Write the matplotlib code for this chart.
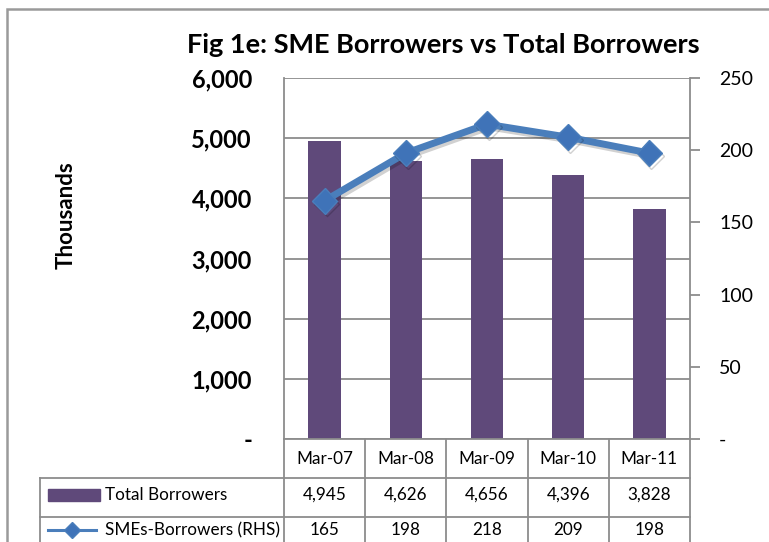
import matplotlib.pyplot as plt
from matplotlib.ticker import FuncFormatter
from matplotlib.lines import Line2D
from matplotlib.patches import Rectangle
import matplotlib.transforms as mtransforms
import matplotlib.patheffects as pe

periods = ["Mar-07", "Mar-08", "Mar-09", "Mar-10", "Mar-11"]
total_borrowers = [4945, 4626, 4656, 4396, 3828]   # thousands
sme_borrowers = [165, 198, 218, 209, 198]          # thousands, right axis

bar_color = "#5F497A"
line_color = "#4A7EBB"
marker_color = "#3F73B8"
grid_color = "#8C8C8C"

plt.rcParams["font.family"] = ["Lato", "DejaVu Sans"]

W, H = 769, 542
fig = plt.figure(figsize=(W / 100, H / 100), dpi=100)


def fx(px):
    return px / W


def fy(py):
    return 1 - py / H


# outer chart border (runs off the right and bottom edges)
fig.patches.append(Rectangle((fx(7), fy(600)), 1.2, fy(9) - fy(600),
                             transform=fig.transFigure, fill=False,
                             edgecolor="#9A9A9A", lw=1.8))

left, right, top, bottom = 284, 690, 78, 439
ax = fig.add_axes([fx(left), fy(bottom), fx(right - left), fy(top) - fy(bottom)])
x = list(range(len(periods)))
ax.bar(x, total_borrowers, width=0.4, color=bar_color, zorder=2)
ax.set_xlim(-0.5, len(periods) - 0.5)
ax.set_ylim(0, 6000)
ax.set_yticks(range(0, 6001, 1000))
ax.yaxis.set_major_formatter(FuncFormatter(lambda v, p: "-" if v == 0 else f"{v:,.0f}"))
ax.grid(axis="y", color=grid_color, lw=1.3, zorder=0)
ax.set_axisbelow(True)
ax.tick_params(axis="y", length=0, pad=23, labelsize=17)
for lbl in ax.get_yticklabels():
    lbl.set_fontweight("bold")
ax.set_xticks([])
for s in ["top", "right"]:
    ax.spines[s].set_visible(False)
for s in ["left", "bottom"]:
    ax.spines[s].set_color(grid_color)
    ax.spines[s].set_linewidth(1.3)
ax.set_ylabel("Thousands", fontsize=16, fontweight="bold")
ax.yaxis.set_label_coords(-(left - 77) / (right - left), 0.62)

ax2 = ax.twinx()
ax2.plot(x, sme_borrowers, color=line_color, lw=5, marker="D", markersize=13,
         markerfacecolor=marker_color, markeredgecolor=line_color, zorder=3,
         path_effects=[pe.SimpleLineShadow(offset=(1.5, -2), alpha=0.18), pe.Normal()])
ax2.set_ylim(0, 250)
ax2.set_yticks(range(0, 251, 50))
ax2.yaxis.set_major_formatter(FuncFormatter(lambda v, p: "-" if v == 0 else f"{v:.0f}"))
ax2.tick_params(axis="y", length=7, width=1.3, color=grid_color, pad=14, labelsize=14)
for s in ["top", "left", "bottom"]:
    ax2.spines[s].set_visible(False)
ax2.spines["right"].set_color(grid_color)
ax2.spines["right"].set_linewidth(1.3)

fig.text(fx(443), fy(45), "Fig 1e: SME Borrowers vs Total Borrowers",
         ha="center", va="center", fontsize=19.5, fontweight="bold")

# data table under the plot
trans = mtransforms.blended_transform_factory(ax.transData, fig.transFigure)
tbl_left = 40
row_lines = [439, 478, 517, 560]
text_rows = [459, 495, 530]
col_edges = [-0.5 + i for i in range(len(periods) + 1)]
lkw = dict(color=grid_color, lw=1.3, clip_on=False)

for xe in col_edges:
    fig.add_artist(Line2D([xe, xe], [fy(row_lines[0]), fy(row_lines[-1])], transform=trans, **lkw))
for ry in row_lines[1:]:
    fig.add_artist(Line2D([fx(tbl_left), fx(right)], [fy(ry), fy(ry)],
                          transform=fig.transFigure, **lkw))
fig.add_artist(Line2D([fx(tbl_left), fx(tbl_left)], [fy(row_lines[1]), fy(row_lines[-1])],
                      transform=fig.transFigure, **lkw))

tsize = 12.3
for i, p in enumerate(periods):
    fig.text(i, fy(text_rows[0]), p, transform=trans, ha="center", va="center", fontsize=tsize)
    fig.text(i, fy(text_rows[1]), f"{total_borrowers[i]:,}", transform=trans,
             ha="center", va="center", fontsize=tsize)
    fig.text(i, fy(text_rows[2]), f"{sme_borrowers[i]}", transform=trans,
             ha="center", va="center", fontsize=tsize)

# legend keys in the table's first column
fig.patches.append(Rectangle((fx(48), fy(text_rows[1] + 6)), fx(52), fy(text_rows[1] - 6) - fy(text_rows[1] + 6),
                             transform=fig.transFigure, color=bar_color))
fig.text(fx(105), fy(text_rows[1]), "Total Borrowers", ha="left", va="center", fontsize=tsize)
fig.add_artist(Line2D([fx(48), fx(96)], [fy(text_rows[2]), fy(text_rows[2])],
                      transform=fig.transFigure, color=line_color, lw=2.2))
fig.add_artist(Line2D([fx(72)], [fy(text_rows[2])], transform=fig.transFigure, lw=0,
                      marker="D", markersize=8, markerfacecolor=marker_color,
                      markeredgecolor=line_color))
fig.text(fx(105), fy(text_rows[2]), "SMEs-Borrowers (RHS)", ha="left", va="center", fontsize=tsize)

fig.savefig("out.png", dpi=100)
